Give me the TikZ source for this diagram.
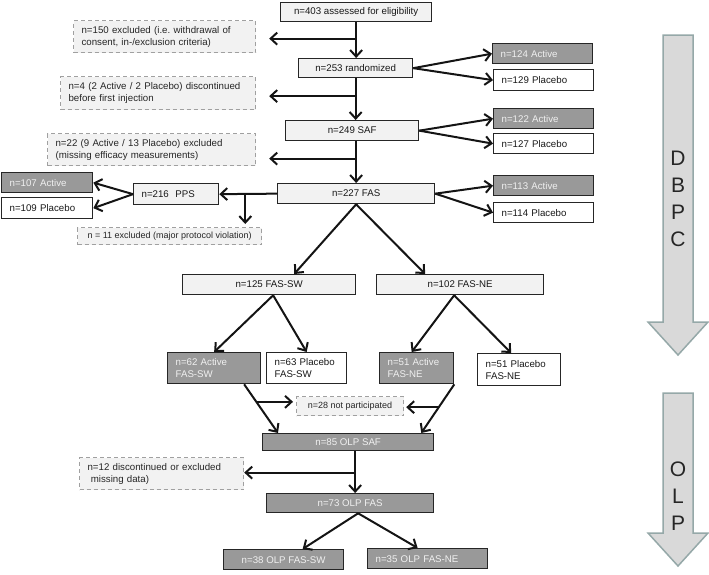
\documentclass[tikz,border=0pt]{standalone}
\usepackage{fontspec}
\setmainfont{Liberation Sans}
\usetikzlibrary{arrows.meta,calc}
\definecolor{darkfill}{HTML}{999999}
\definecolor{lightfill}{HTML}{F2F2F2}
\definecolor{dashedge}{HTML}{A0A0A0}
\definecolor{bigfill}{HTML}{D9D9D9}
\definecolor{bigedge}{HTML}{95A8A8}
\definecolor{boxedge}{HTML}{262626}
\frenchspacing
\begin{document}
\begin{tikzpicture}[x=1pt,y=-1pt,
  wd/.code={\pgfmathsetlengthmacro\mytw{#1-16}\pgfkeysalso{minimum width=#1pt,text width=\mytw}},
  cw/.style={minimum width=#1pt},
  ht/.style={minimum height=#1pt},
  base/.style={anchor=north west, inner xsep=0pt, inner ysep=0pt,
    font=\fontsize{9.7}{12}\selectfont, line width=1.3pt},
  lightbox/.style={base, draw=boxedge, fill=lightfill, align=center, text=black!90},
  plainbox/.style={base, draw=boxedge, fill=white, align=left, text=black!90},
  darkbox/.style={base, draw=boxedge, fill=darkfill, align=left, text=white!94!black},
  dashbox/.style={base, draw=dashedge, dashed, dash pattern=on 4pt off 3pt,
    line width=1.2pt, fill=lightfill, align=left, text=black!85},
  smallfont/.style={font=\fontsize{9}{11}\selectfont},
  arr/.style={line width=2pt, draw=black!92, -{Straight Barb[length=6.5pt,width=12pt]}},
  bigarrow/.style={fill=bigfill, draw=bigedge, line width=1.5pt, line join=miter},
  bigletters/.style={font=\fontsize{21}{27}\selectfont, align=center, text=black!85, inner sep=0pt}
]
\useasboundingbox (0,0) rectangle (709,574);

% ---- big phase arrows
\draw[bigarrow] (663,35) -- (693,35) -- (693,322) -- (708,322) -- (678,355) -- (648,322) -- (663,322) -- cycle;
\node[bigletters] (dbpc) at (678,199) {D\\B\\P\\C};
\draw[bigarrow] (663,393) -- (693,393) -- (693,533) -- (708,533) -- (678,566) -- (648,533) -- (663,533) -- cycle;
\node[bigletters] (olp) at (678,496) {O\\L\\P};

% ---- main column
\node[lightbox, cw=151, ht=19] (a403) at (280,2) {n=403 assessed for eligibility};
\node[dashbox, wd=182, ht=32] (ex150) at (73,20) {\mbox{n=150 excluded (i.e. withdrawal of}\\\mbox{consent, in-/exclusion criteria)}};
\node[lightbox, cw=114, ht=19] (r253) at (298,58) {n=253 randomized};
\node[darkbox, wd=100, ht=20] (a124) at (492,43) {n=124 Active};
\node[plainbox, wd=100, ht=21] (p129) at (493,69) {n=129 Placebo};
\node[dashbox, wd=195, ht=33] (ex4) at (60,76) {\mbox{n=4 (2 Active / 2 Placebo) discontinued}\\\mbox{before first injection}};
\node[lightbox, cw=133, ht=20] (s249) at (285,120) {n=249 SAF};
\node[darkbox, wd=100, ht=20] (a122) at (493,108) {n=122 Active};
\node[plainbox, wd=100, ht=20] (p127) at (493,133) {n=127 Placebo};
\node[dashbox, wd=208, ht=32] (ex22) at (47,133) {\mbox{n=22 (9 Active / 13 Placebo) excluded}\\\mbox{(missing efficacy measurements)}};
\node[lightbox, cw=157, ht=20] (f227) at (277,183) {n=227 FAS};
\node[darkbox, wd=100, ht=20] (a113) at (493,175) {n=113 Active};
\node[plainbox, wd=100, ht=20] (p114) at (493,202) {n=114 Placebo};
\node[lightbox, wd=85, ht=21, align=left] (pps) at (133,183) {n=216\ \ PPS};
\node[darkbox, wd=91, ht=20] (a107) at (1,172) {n=107 Active};
\node[plainbox, wd=91, ht=21] (p109) at (1,197) {n=109 Placebo};
\node[dashbox, smallfont, cw=184, ht=17, align=center] (ex11) at (77,227) {n = 11 excluded (major protocol violation)};

% ---- subgroups
\node[lightbox, cw=173, ht=20] (sw125) at (182,274) {n=125 FAS-SW};
\node[lightbox, cw=167, ht=20] (ne102) at (376,274) {n=102 FAS-NE};
\node[darkbox, wd=93, ht=31] (a62) at (167,352) {n=62 Active\\FAS-SW};
\node[plainbox, wd=80, ht=31] (p63) at (266,352) {n=63 Placebo\\FAS-SW};
\node[darkbox, wd=74, ht=31] (a51) at (379,352) {n=51 Active\\FAS-NE};
\node[plainbox, wd=83, ht=32] (p51) at (477,353) {n=51 Placebo\\FAS-NE};
\node[dashbox, smallfont, cw=107, ht=19, align=center] (np28) at (296,396) {n=28 not participated};

% ---- open label phase
\node[darkbox, cw=171, ht=17, align=center] (olpsaf) at (262,433) {n=85 OLP SAF};
\node[dashbox, wd=164, ht=32] (ex12) at (79,457) {\mbox{n=12 discontinued or excluded}\\\mbox{\ missing data)}};
\node[darkbox, cw=167, ht=19, align=center] (olpfas) at (266,493) {n=73 OLP FAS};
\node[darkbox, cw=120, ht=20, align=center] (olpsw) at (223,549) {n=38 OLP FAS-SW};
\node[darkbox, wd=120, ht=20] (olpne) at (367,548) {n=35 OLP FAS-NE};

% ---- connectors: main column
\coordinate (e1) at ($(ex150.east)+(13,2)$);
\coordinate (e2) at ($(ex4.east)+(13,3)$);
\coordinate (e3) at ($(ex22.east)+(13,9)$);
\draw[arr] (a403.south) -- (a403.south |- r253.north);
\draw[arr] (e1 -| a403.south) -- (e1);
\draw[arr] (r253.south) -- (r253.south |- s249.north);
\draw[arr] (e2 -| r253.south) -- (e2);
\draw[arr] (f227.north |- s249.south) -- (f227.north);
\draw[arr] (e3 -| f227.north) -- (e3);

\draw[arr] (r253.east) -- (a124.west);
\draw[arr] (r253.east) -- (p129.west);
\draw[arr] (s249.east) -- (a122.west);
\draw[arr] (s249.east) -- (p127.west);
\draw[arr] (f227.east) -- (a113.west);
\draw[arr] (f227.east) -- (p114.west);

\draw[arr] (f227.west) -- (pps.east);
\coordinate (bx) at ($(pps.east)!0.45!(f227.west)$);
\draw[arr, shorten >=3pt] (bx) -- (bx |- ex11.north);
\draw[arr] (pps.west) -- (a107.east);
\draw[arr] (pps.west) -- (p109.east);

% ---- connectors: subgroups
\draw[arr] (f227.south) -- ([xshift=25pt]sw125.north);
\draw[arr] (f227.south) -- ([xshift=-35pt]ne102.north);
\draw[arr] ([xshift=4pt]sw125.south) -- (a62.north);
\draw[arr] ([xshift=4pt]sw125.south) -- (p63.north);
\draw[arr] ([xshift=-6pt]ne102.south) -- ([xshift=-5pt]a51.north);
\draw[arr] ([xshift=-6pt]ne102.south) -- ([xshift=-8pt]p51.north);

\draw[arr] ([xshift=30pt]a62.south) -- coordinate[pos=0.36] (m1) ([xshift=16pt]olpsaf.north west);
\draw[arr, shorten >=3pt] (m1) -- (m1 -| np28.west);
\draw[arr] (a51.south east) -- coordinate[pos=0.47] (m2) ([xshift=-13pt]olpsaf.north east);
\draw[arr, shorten >=2pt] (m2) -- (m2 -| np28.east);

% ---- connectors: open label
\coordinate (v) at ($(olpsaf.south)+(7,0)$);
\coordinate (e5) at ($(ex12.east)+(0,-1)$);
\draw[arr] (v) -- (v |- olpfas.north);
\draw[arr] (e5 -| v) -- (e5);
\draw[arr] ([xshift=8pt]olpfas.south) -- ([xshift=19pt]olpsw.north);
\draw[arr] ([xshift=8pt]olpfas.south) -- ([xshift=-10pt]olpne.north);
\end{tikzpicture}
\end{document}
